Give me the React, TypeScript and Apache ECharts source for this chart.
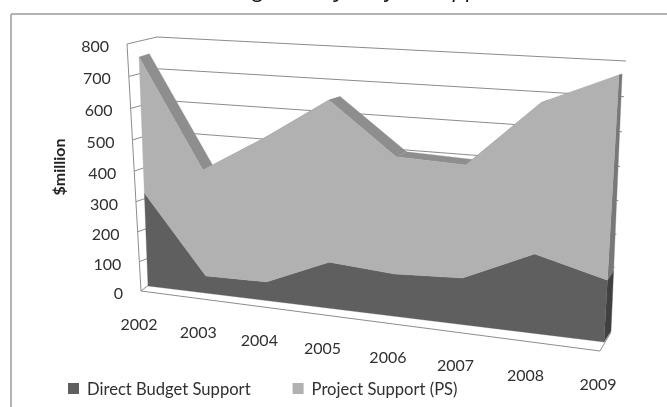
import React, { useEffect, useRef } from "react";
import * as echarts from "echarts";

const years = ["2002", "2003", "2004", "2005", "2006", "2007", "2008", "2009"];
const directBudget = [314, 58, 62, 150, 135, 146, 243, 187];
const projectSupport = [439, 349, 463, 505, 363, 344, 442, 588];
const yTicks = [0, 100, 200, 300, 400, 500, 600, 700, 800];

type Pt = number[];
// Maps the unit square of the hidden cartesian grid on to a picture-plane quadrilateral.
function quad(p00: Pt, p10: Pt, p11: Pt, p01: Pt) {
  const dx1 = p10[0] - p11[0], dy1 = p10[1] - p11[1];
  const dx2 = p01[0] - p11[0], dy2 = p01[1] - p11[1];
  const sx = p00[0] - p10[0] + p11[0] - p01[0], sy = p00[1] - p10[1] + p11[1] - p01[1];
  const det = dx1 * dy2 - dx2 * dy1;
  const g = (sx * dy2 - dx2 * sy) / det, h = (dx1 * sy - sx * dy1) / det;
  const a = p10[0] - p00[0] + g * p10[0], b = p01[0] - p00[0] + h * p01[0];
  const d = p10[1] - p00[1] + g * p10[1], e = p01[1] - p00[1] + h * p01[1];
  return (u: number, v: number): Pt => {
    const w = g * u + h * v + 1;
    return [(a * u + b * v + p00[0]) / w, (d * u + e * v + p00[1]) / w];
  };
}

const areaFront = quad([148, 286], [604, 342], [619.5, 66], [138.4, 42]);
const areaBack = quad([154, 281], [611, 331], [622.5, 65.5], [149, 39]);
const wallFront = quad([141, 291], [600, 351], [615, 75], [127, 44]);
const wallBack = quad([168, 280], [611, 332], [626, 61], [157, 37]);

const GRID = 100;
const FONT = "Lato";
const COLORS = {
  direct: "#5f5f5f",
  directSide: "#404040",
  project: "#b1b1b1",
  projectTop: "#8e8e8e",
  projectSide: "#787878",
  line: "#8c8c8c",
  text: "#303030",
};

// Reads a (category, value) pair through the chart's own scales as unit coordinates.
function unit(api: any, i: number, value: number) {
  const c = api.coord([i, value]);
  return [c[0] / GRID, (GRID - c[1]) / GRID];
}
function poly(points: Pt[], fill: string) {
  return { type: "polygon", shape: { points }, style: { fill, stroke: fill, lineWidth: 0.3 } };
}
function line(points: Pt[]) {
  return { type: "polyline", shape: { points }, style: { stroke: COLORS.line, lineWidth: 1, fill: "none" } };
}
function label(text: string, x: number, y: number, align: string, size = 16) {
  return {
    type: "text",
    x,
    y,
    style: { text, fill: COLORS.text, font: `${size}px ${FONT}`, align, verticalAlign: "middle" },
  };
}

function renderFrame(params: any, api: any) {
  const children: any[] = [];
  yTicks.forEach((t) => {
    const [, v] = unit(api, 0, t);
    const a = wallFront(0, v), b = wallBack(0, v), c = wallBack(1, v);
    if (t > 0) children.push(line([a, b, c]));
    children.push(label(String(t), a[0] - 18, a[1] + 1.5, "right"));
  });
  const [u0] = unit(api, 0, 0);
  const [u1] = unit(api, years.length - 1, 0);
  children.push(line([wallFront(u0, 0), wallFront(0, yTicks[yTicks.length - 1] / 800)]));
  children.push(line([[148, 285.5], wallFront(u0, 0), wallFront(u1, 0), wallBack(u1, 0)]));
  years.forEach((y, i) => {
    const [u] = unit(api, i, 0);
    const p = wallFront(u, 0);
    children.push(label(y, p[0] - 2, p[1] + 32.5, "center"));
  });
  return { type: "group", children };
}

function renderDirect(params: any, api: any) {
  if (params.dataIndex !== 0) return null;
  const top = directBudget.map((v, i) => unit(api, i, v));
  const n = top.length - 1;
  const base0 = unit(api, 0, 0), baseN = unit(api, n, 0);
  const children = [
    poly(
      [areaFront(baseN[0], 0), areaBack(baseN[0], 0), areaBack(top[n][0], top[n][1]), areaFront(top[n][0], top[n][1])],
      COLORS.directSide
    ),
    poly(
      [areaFront(base0[0], 0), ...top.map((p) => areaFront(p[0], p[1])), areaFront(baseN[0], 0)],
      COLORS.direct
    ),
  ];
  return { type: "group", children };
}

function renderProject(params: any, api: any) {
  if (params.dataIndex !== 0) return null;
  const low = directBudget.map((v, i) => unit(api, i, v));
  const top = projectSupport.map((v, i) => unit(api, i, v + directBudget[i]));
  const n = top.length - 1;
  const children: any[] = [];
  for (let i = 0; i < n; i++) {
    children.push(
      poly(
        [
          areaFront(top[i][0], top[i][1]),
          areaBack(top[i][0], top[i][1]),
          areaBack(top[i + 1][0], top[i + 1][1]),
          areaFront(top[i + 1][0], top[i + 1][1]),
        ],
        COLORS.projectTop
      )
    );
  }
  children.push(
    poly(
      [areaFront(low[n][0], low[n][1]), areaBack(low[n][0], low[n][1]), areaBack(top[n][0], top[n][1]), areaFront(top[n][0], top[n][1])],
      COLORS.projectSide
    )
  );
  children.push(
    poly(
      [...top.map((p) => areaFront(p[0], p[1])), ...[...low].reverse().map((p) => areaFront(p[0], p[1]))],
      COLORS.project
    )
  );
  return { type: "group", children };
}

export default function App() {
  const ref = useRef<HTMLDivElement>(null);
  useEffect(() => {
    const chart = echarts.init(ref.current!, null, { renderer: "svg" });
    chart.setOption({
      animation: false,
      backgroundColor: "#ffffff",
      grid: { left: 0, top: 0, width: GRID, height: GRID },
      xAxis: { type: "category", data: years, boundaryGap: false, show: false },
      yAxis: { type: "value", min: 0, max: 800, interval: 100, show: false },
      legend: {
        left: 63,
        top: 375,
        itemWidth: 11,
        itemHeight: 11,
        itemGap: 42,
        icon: "rect",
        data: ["Direct Budget Support", "Project Support (PS)"],
        textStyle: { fontFamily: FONT, fontSize: 16.6, color: COLORS.text, padding: [0, 0, 0, 3] },
      },
      graphic: [
        { type: "line", shape: { x1: 11, y1: 14, x2: 667, y2: 14 }, style: { stroke: "#b4b4b4", lineWidth: 2 } },
        { type: "line", shape: { x1: 11, y1: 14, x2: 11, y2: 407 }, style: { stroke: "#b4b4b4", lineWidth: 2 } },
        {
          type: "text",
          x: 356,
          y: -2,
          style: {
            text: "Foreign Aid by Project Support",
            font: `italic 23px "Open Sans"`,
            fill: "#111111",
            align: "center",
            verticalAlign: "bottom",
          },
        },
        {
          type: "text",
          x: 58,
          y: 167,
          rotation: Math.PI / 2,
          style: {
            text: "$million",
            font: `bold 16px ${FONT}`,
            fill: "#222222",
            align: "center",
            verticalAlign: "middle",
          },
        },
      ],
      series: [
        { type: "custom", name: "frame", coordinateSystem: "cartesian2d", silent: true, clip: false, z: 1, data: [[0, 0]], renderItem: renderFrame },
        {
          type: "custom",
          name: "Direct Budget Support",
          coordinateSystem: "cartesian2d",
          clip: false,
          z: 2,
          itemStyle: { color: COLORS.direct },
          data: directBudget.map((v, i) => [i, v]),
          renderItem: renderDirect,
        },
        {
          type: "custom",
          name: "Project Support (PS)",
          coordinateSystem: "cartesian2d",
          clip: false,
          z: 3,
          itemStyle: { color: COLORS.project },
          data: projectSupport.map((v, i) => [i, v]),
          renderItem: renderProject,
        },
      ],
    });
    return () => chart.dispose();
  }, []);
  return (
    <div
      ref={ref}
      style={{ position: "fixed", left: 0, top: 0, width: 667, height: 407, filter: "blur(0.45px)" }}
    />
  );
}
